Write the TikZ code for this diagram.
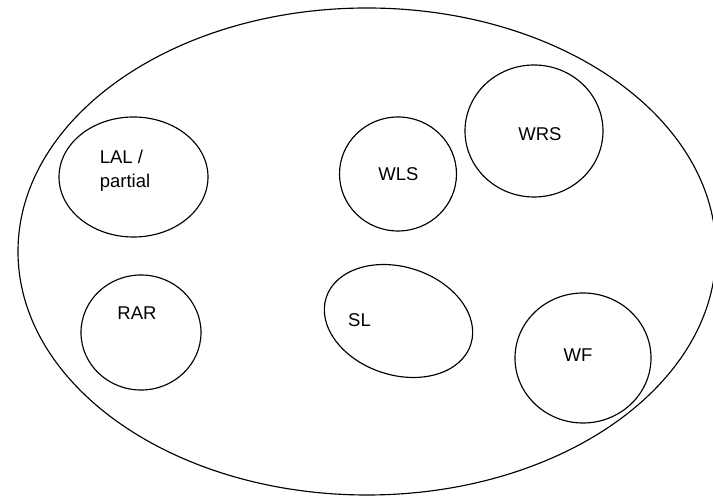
\documentclass[tikz,border=0pt]{standalone}
\usepackage{fontspec}
\setmainfont{Liberation Sans}
\usetikzlibrary{shapes.geometric}
\begin{document}
\begin{tikzpicture}[x=1pt,y=1pt,
  blob/.style={draw, ellipse, line width=1.15pt, inner sep=0pt},
  lbl/.style={font=\fontsize{18.5}{24}\selectfont, align=left, inner sep=0pt}]
\useasboundingbox (0,0) rectangle (713,497);
% enclosing set
\node[blob, minimum width=698pt, minimum height=487pt] (all) at (367,245.5) {};
% member sets
\node[blob, minimum width=149pt, minimum height=120pt] (lal) at (133.5,320) {};
\node[blob, minimum width=117pt, minimum height=114pt] (wls) at (398,323) {};
\node[blob, minimum width=138pt, minimum height=132pt] (wrs) at (534,366) {};
\node[blob, minimum width=120pt, minimum height=115pt] (rar) at (141,164.5) {};
\node[blob, minimum width=152pt, minimum height=108pt, rotate=-18] (sl) at (398.5,176) {};
\node[blob, minimum width=136pt, minimum height=130pt] (wf) at (583,139) {};
% labels
\node[lbl] (lallbl) at (125,326) {LAL /\\partial};
\node[lbl] (wlslbl) at (398.5,323) {WLS};
\node[lbl] (wrslbl) at (540,362.5) {WRS};
\node[lbl] (rarlbl) at (137,184) {RAR};
\node[lbl] (sllbl) at (359.5,176.5) {SL};
\node[lbl] (wflbl) at (578,141.5) {WF};
\end{tikzpicture}
\end{document}
